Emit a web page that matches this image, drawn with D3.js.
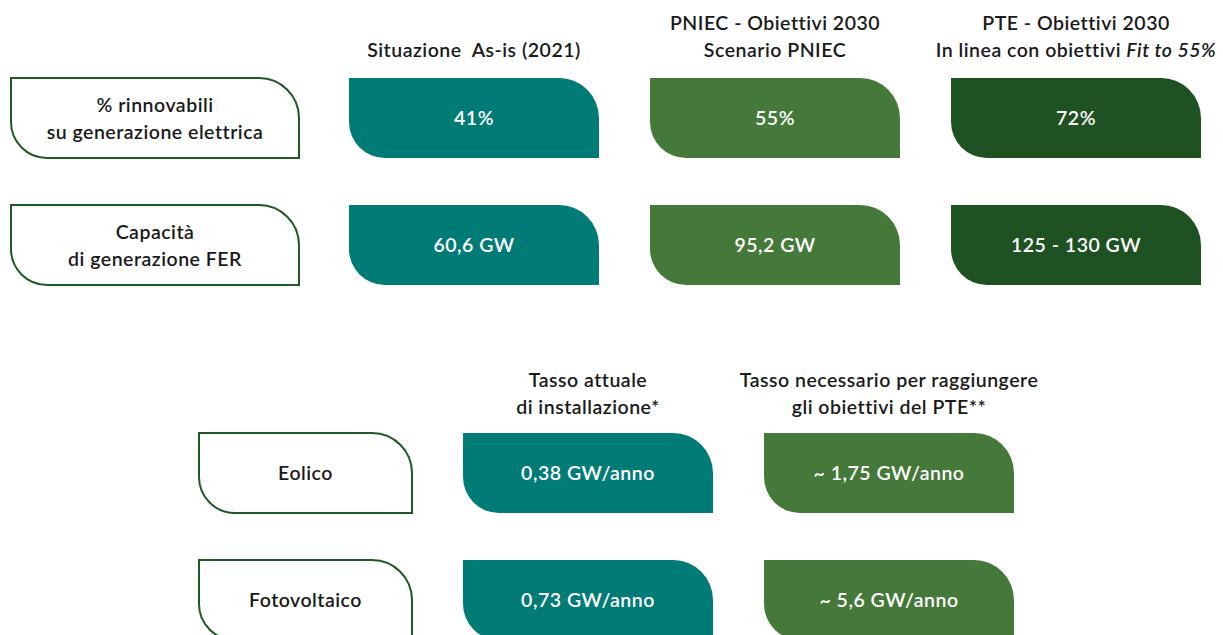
<!DOCTYPE html>
<html>
<head>
<meta charset="utf-8">
<script src="https://cdn.jsdelivr.net/npm/d3@7"></script>
<style>
  body { margin: 0; background: #fff; }
  svg text { font-family: Lato, "Open Sans", sans-serif; white-space: pre; letter-spacing: 0.5px; }
</style>
</head>
<body>
<svg id="chart" width="1223" height="635"></svg>
<script>
// --- data (top block) ---
const topCols = ['asis', 'pniec', 'pte'];
const topHeaders = [
  ['Situazione  As-is (2021)'],
  ['PNIEC - Obiettivi 2030', 'Scenario PNIEC'],
  ['PTE - Obiettivi 2030', 'In linea con obiettivi |Fit to 55%']
];
const topRows = [
  ['% rinnovabili', 'su generazione elettrica'],
  ['Capacità', 'di generazione FER']
];
const topValues = [
  ['41%', '55%', '72%'],
  ['60,6 GW', '95,2 GW', '125 - 130 GW']
];

// --- data (bottom block) ---
const botCols = ['attuale', 'necessario'];
const botHeaders = [
  ['Tasso attuale', 'di installazione*'],
  ['Tasso necessario per raggiungere', 'gli obiettivi del PTE**']
];
const botRows = [['Eolico'], ['Fotovoltaico']];
const botValues = [
  ['0,38 GW/anno', '~ 1,75 GW/anno'],
  ['0,73 GW/anno', '~ 5,6 GW/anno']
];

const colColors = { asis: '#017b76', pniec: '#45793a', pte: '#1e5222',
                    attuale: '#017b76', necessario: '#45793a' };
const strokeCol = '#1f5a26';

const svg = d3.select('#chart');

// box with rounded top-right and bottom-left corners
function boxPath(x, y, w, h) {
  const r1 = 40, r2 = 36;
  return `M${x},${y} H${x + w - r1} A${r1},${r1} 0 0 1 ${x + w},${y + r1}` +
    ` V${y + h} H${x + r2} A${r2},${r2} 0 0 1 ${x},${y + h - r2} Z`;
}

function block(cfg) {
  const x = d3.scaleBand().domain(cfg.cols).range(cfg.xRange).paddingInner(51 / 301);
  const y = d3.scaleBand().domain(d3.range(cfg.rows.length)).range(cfg.yRange).paddingInner(47 / 127);
  const g = svg.append('g');

  // column headers
  cfg.cols.forEach((c, i) => {
    const lines = cfg.headers[i];
    const n = lines.length;
    lines.forEach((ln, k) => {
      const t = g.append('text')
        .attr('x', x(c) + x.bandwidth() / 2)
        .attr('y', cfg.headerBase - (n - 1 - k) * 27)
        .attr('text-anchor', 'middle')
        .attr('font-size', 19.5)
        .attr('font-weight', 600)
        .attr('fill', '#1a1a1a');
      const parts = ln.split('|');
      t.append('tspan').text(parts[0]);
      if (parts[1]) t.append('tspan').attr('font-style', 'italic').text(parts[1]);
    });
  });

  // row label boxes
  cfg.rows.forEach((lines, r) => {
    const y0 = y(r), h = y.bandwidth();
    g.append('path')
      .attr('d', boxPath(cfg.labelX[0], y0, cfg.labelX[1] - cfg.labelX[0], h))
      .attr('fill', '#fff')
      .attr('stroke', strokeCol)
      .attr('stroke-width', 2);
    lines.forEach((ln, k) => {
      g.append('text')
        .attr('x', (cfg.labelX[0] + cfg.labelX[1]) / 2)
        .attr('y', y0 + h / 2 + 7 + (k - (lines.length - 1) / 2) * 27)
        .attr('text-anchor', 'middle')
        .attr('font-size', 19.5)
        .attr('font-weight', 600)
        .attr('fill', '#1a1a1a')
        .text(ln);
    });

    // value boxes
    cfg.cols.forEach((c, i) => {
      g.append('path')
        .attr('d', boxPath(x(c), y0, x.bandwidth(), h))
        .attr('fill', colColors[c]);
      g.append('text')
        .attr('x', x(c) + x.bandwidth() / 2)
        .attr('y', y0 + h / 2 + 7)
        .attr('text-anchor', 'middle')
        .attr('font-size', 19.5)
        .attr('font-weight', 600)
        .attr('fill', '#fff')
        .text(cfg.values[r][i]);
    });
  });
}

block({
  cols: topCols, headers: topHeaders, rows: topRows, values: topValues,
  xRange: [349, 1201], yRange: [78, 285], labelX: [11, 299], headerBase: 57
});

block({
  cols: botCols, headers: botHeaders, rows: botRows, values: botValues,
  xRange: [463, 1014], yRange: [433, 640], labelX: [199, 412], headerBase: 414
});
</script>
</body>
</html>
